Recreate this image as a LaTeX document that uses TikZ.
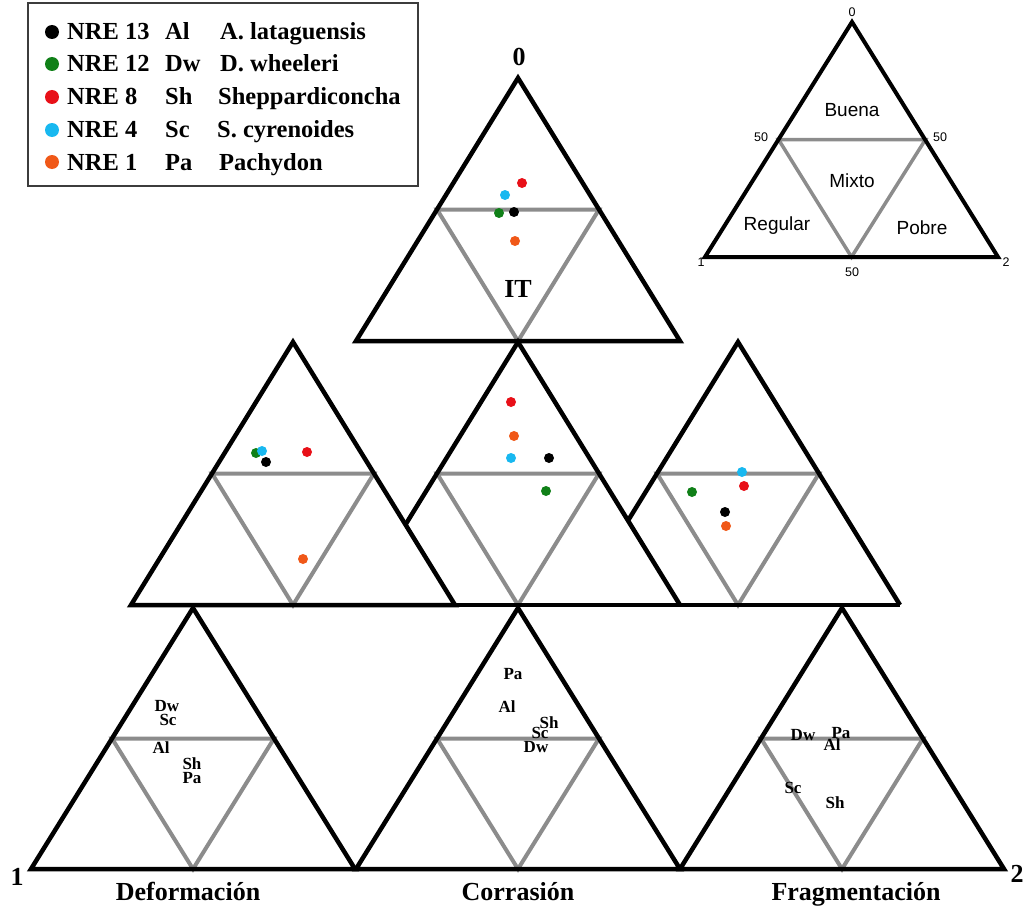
\documentclass[tikz,border=0pt]{standalone}
\usepackage{fontspec}
\setmainfont{Liberation Serif}
\newfontfamily\arialf{Liberation Sans}
\definecolor{ptgreen}{RGB}{16,128,24}
\definecolor{ptred}{RGB}{232,16,24}
\definecolor{ptcyan}{RGB}{24,184,240}
\definecolor{ptorange}{RGB}{240,88,24}
\definecolor{gline}{RGB}{140,140,140}
\definecolor{boxline}{RGB}{60,60,60}
\begin{document}
\begin{tikzpicture}[x=1pt,y=-1pt,
  outer/.style={line width=4.5pt, draw=black, line join=miter},
  inner/.style={line width=4pt, draw=gline},
  souter/.style={line width=4pt, draw=black},
  sinner/.style={line width=3.5pt, draw=gline},
  dot/.style={circle, inner sep=0pt, minimum size=10pt, fill=#1},
  legdot/.style={circle, inner sep=0pt, minimum size=14pt, fill=#1},
  code/.style={font=\fontsize{17}{17}\selectfont\bfseries, inner sep=0pt},
  biglab/.style={font=\fontsize{26}{26}\selectfont\bfseries, inner sep=0pt, anchor=base},
  legtxt/.style={font=\fontsize{24.5}{24.5}\selectfont\bfseries, inner sep=0pt, anchor=base west},
  keytxt/.style={font=\arialf\fontsize{19}{19}\selectfont, inner sep=0pt},
  keynum/.style={font=\arialf\fontsize{12.5}{12.5}\selectfont, inner sep=0pt},
]
\useasboundingbox (0,0) rectangle (1029,907);

% legend
\draw[line width=2pt, draw=boxline] (28,3) rectangle (418,186);
\node[legdot=black]    (ld1) at (52,32) {};
\node[legdot=ptgreen]  (ld2) at (52,64) {};
\node[legdot=ptred]    (ld3) at (52,97) {};
\node[legdot=ptcyan]   (ld4) at (52,130) {};
\node[legdot=ptorange] (ld5) at (52,162) {};
\node[legtxt] (ln1) at (67,40) {NRE 13};
\node[legtxt] (ln2) at (67,72) {NRE 12};
\node[legtxt] (ln3) at (67,105) {NRE 8};
\node[legtxt] (ln4) at (67,138) {NRE 4};
\node[legtxt] (ln5) at (67,170) {NRE 1};
\node[legtxt] (lc1) at (165,40) {Al};
\node[legtxt] (lc2) at (165,72) {Dw};
\node[legtxt] (lc3) at (165,105) {Sh};
\node[legtxt] (lc4) at (165,138) {Sc};
\node[legtxt] (lc5) at (165,170) {Pa};
\node[legtxt] (ls1) at (220,40) {A. lataguensis};
\node[legtxt] (ls2) at (220,72) {D. wheeleri};
\node[legtxt] (ls3) at (218,105) {Sheppardiconcha};
\node[legtxt] (ls4) at (217,138) {S. cyrenoides};
\node[legtxt] (ls5) at (219,170) {Pachydon};

% key triangle
\draw[sinner] (778.5,139.5) -- (925.5,139.5) -- (851.5,257) -- cycle;
\draw[souter] (852,22) -- (705,257) -- (998,257) -- cycle;
\node[keytxt] (kb) at (852,110) {Buena};
\node[keytxt] (km) at (852,181) {Mixto};
\node[keytxt] (kr) at (777,226) {Regular};
\node[keytxt] (kp) at (922,228) {Pobre};
\node[keynum] (k0) at (852,12) {0};
\node[keynum] (k50a) at (761,137) {50};
\node[keynum] (k50b) at (940,137) {50};
\node[keynum] (k50c) at (852,272) {50};
\node[keynum] (k1) at (701,262) {1};
\node[keynum] (k2) at (1006,262) {2};

% top triangle IT
\draw[inner] (437,209.5) -- (599,209.5) -- (518,341) -- cycle;
\draw[outer] (518,78) -- (356,341) -- (680,341) -- cycle;
\node[biglab] (l0) at (519,66) {0};
\node[biglab] (lit) at (518,297) {IT};
\node[dot=ptred]    (t3) at (522,183) {};
\node[dot=ptcyan]   (t4) at (505,195) {};
\node[dot=ptgreen]  (t2) at (499,213) {};
\node[dot=black]    (t1) at (514,212) {};
\node[dot=ptorange] (t5) at (515,241) {};

% middle row
\draw[inner] (212,473.5) -- (374,473.5) -- (293,605) -- cycle;
\draw[inner] (437,473.5) -- (599,473.5) -- (518,605) -- cycle;
\draw[inner] (657,473.5) -- (819,473.5) -- (738,605) -- cycle;
\draw[outer] (293,342) -- (131,605) -- (455,605) -- cycle;
\draw[outer] (405.5,524.6) -- (518,342) -- (680,605);
\draw[outer] (628,520.6) -- (738,342) -- (900,605);
\draw[outer] (131,605) -- (900,605);

\node[dot=ptgreen]  (a2) at (256,453) {};
\node[dot=ptcyan]   (a4) at (262,451) {};
\node[dot=black]    (a1) at (266,462) {};
\node[dot=ptred]    (a3) at (307,452) {};
\node[dot=ptorange] (a5) at (303,559) {};

\node[dot=ptred]    (b3) at (511,402) {};
\node[dot=ptorange] (b5) at (514,436) {};
\node[dot=ptcyan]   (b4) at (511,458) {};
\node[dot=black]    (b1) at (549,458) {};
\node[dot=ptgreen]  (b2) at (546,491) {};

\node[dot=ptcyan]   (c4) at (742,472) {};
\node[dot=ptred]    (c3) at (744,486) {};
\node[dot=ptgreen]  (c2) at (692,492) {};
\node[dot=black]    (c1) at (725,512) {};
\node[dot=ptorange] (c5) at (726,526) {};

% bottom row
\draw[inner] (112,738.5) -- (274,738.5) -- (193,869) -- cycle;
\draw[inner] (437,738.5) -- (599,738.5) -- (518,869) -- cycle;
\draw[inner] (761,738.5) -- (923,738.5) -- (842,869) -- cycle;
\draw[outer] (193,608) -- (31,869) -- (355,869) -- cycle;
\draw[outer] (518,608) -- (356,869) -- (680,869) -- cycle;
\draw[outer] (842,608) -- (680,869) -- (1004,869) -- cycle;

\node[code] (d2) at (167,706) {Dw};
\node[code] (d4) at (168,720) {Sc};
\node[code] (d1) at (161,748) {Al};
\node[code] (d3) at (192,764) {Sh};
\node[code] (d5) at (192,778) {Pa};

\node[code] (e5) at (513,674) {Pa};
\node[code] (e1) at (507,707) {Al};
\node[code] (e3) at (549,723) {Sh};
\node[code] (e4) at (540,733) {Sc};
\node[code] (e2) at (536,747) {Dw};

\node[code] (f2) at (803,735) {Dw};
\node[code] (f5) at (841,733) {Pa};
\node[code] (f1) at (832,745) {Al};
\node[code] (f4) at (793,788) {Sc};
\node[code] (f3) at (835,803) {Sh};

\node[biglab] (v1) at (17,885) {1};
\node[biglab] (v2) at (1017,882) {2};
\node[biglab] (xd) at (188,900) {Deformación};
\node[biglab] (xc) at (518,900) {Corrasión};
\node[biglab] (xf) at (856,900) {Fragmentación};
\end{tikzpicture}
\end{document}
